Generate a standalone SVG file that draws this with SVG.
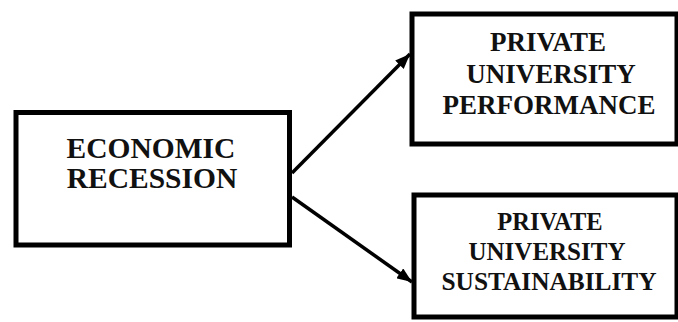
<svg xmlns="http://www.w3.org/2000/svg" width="678" height="322" viewBox="0 0 678 322">
<defs>
<marker id="ah" markerUnits="userSpaceOnUse" markerWidth="16" markerHeight="12" refX="15" refY="6" orient="auto">
<path d="M0,0 L15,6 L0,12 Z" fill="#000"/>
</marker>
<style>
.box{fill:#fff;stroke:#000;stroke-width:5}
.t{font-family:"Liberation Serif","Times New Roman",serif;font-weight:bold;fill:#111;text-anchor:middle}
.conn{stroke:#000;stroke-width:3.5;fill:none;marker-end:url(#ah)}
</style>
</defs>
<rect width="678" height="322" fill="#fff"/>
<g id="connectors">
<line class="conn" x1="292" y1="173" x2="410" y2="54"/>
<line class="conn" x1="292" y1="197" x2="412" y2="282"/>
</g>
<g id="economic-recession">
<rect class="box" x="16" y="112.5" width="273.5" height="132.5"/>
<text class="t" x="151" y="157.5" font-size="29.5">ECONOMIC</text>
<text class="t" x="152" y="188" font-size="29.5">RECESSION</text>
</g>
<g id="performance">
<rect class="box" x="412" y="14" width="265" height="130"/>
<text class="t" x="548" y="51" font-size="27">PRIVATE</text>
<text class="t" x="551" y="83" font-size="27">UNIVERSITY</text>
<text class="t" x="549" y="114" font-size="27">PERFORMANCE</text>
</g>
<g id="sustainability">
<rect class="box" x="414" y="195" width="263" height="122"/>
<text class="t" x="550" y="230" font-size="24.5">PRIVATE</text>
<text class="t" x="547" y="260" font-size="25">UNIVERSITY</text>
<text class="t" x="549" y="290" font-size="25" textLength="215" lengthAdjust="spacingAndGlyphs">SUSTAINABILITY</text>
</g>
</svg>
